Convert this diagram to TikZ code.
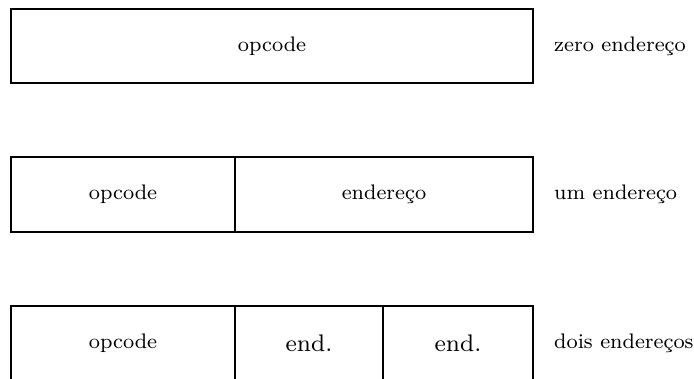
\documentclass[tikz,border=0pt]{standalone}
\usepackage{graphicx}
\newcommand\sm[1]{\scalebox{2.63}{\fontsize{8}{10}\selectfont #1}}
\newcommand\bg[1]{\scalebox{3.0}{\fontsize{8}{10}\selectfont #1}}
\begin{document}
\begin{tikzpicture}[x=1pt,y=-1pt,
  cell/.style={draw, line width=2.7pt, inner sep=0pt, minimum height=75pt},
  lbl/.style={anchor=west, inner sep=0pt}]
\useasboundingbox (0,0) rectangle (694,379);
\clip (0,0) rectangle (694,379);
% row 1
\node[cell, minimum width=522pt, minimum height=74pt] (z) at (272,46) {\sm{opcode}};
\node[lbl] (zl) at (554,46) {\sm{zero endereço}};
% row 2
\node[cell, minimum width=224pt] (u1) at (123,194.5) {\sm{opcode}};
\node[cell, minimum width=298pt] (u2) at (384,194.5) {\sm{endereço}};
\node[lbl] (ul) at (554,194.5) {\sm{um endereço}};
% row 3
\node[cell, minimum width=224pt] (d1) at (123,343.5) {\sm{opcode}};
\node[cell, minimum width=148pt] (d2) at (309,343.5) {\bg{end.}};
\node[cell, minimum width=150pt] (d3) at (458,343.5) {\bg{end.}};
\node[lbl] (dl) at (554,343.5) {\sm{dois endereços}};
\end{tikzpicture}
\end{document}
